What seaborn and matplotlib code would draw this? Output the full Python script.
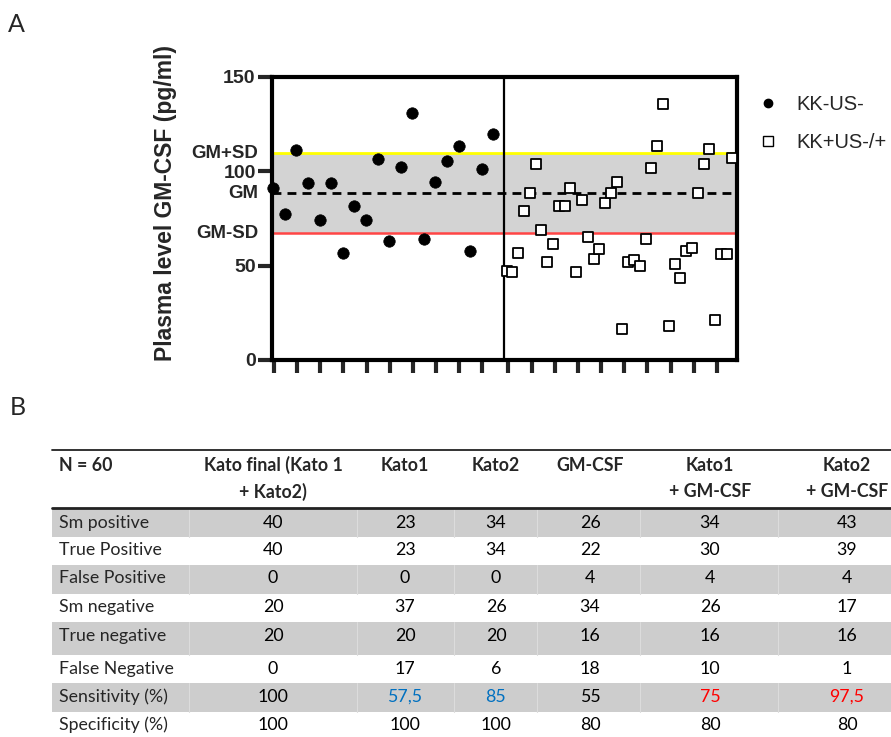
import numpy as np
import pandas as pd
import matplotlib
matplotlib.use("Agg")
import matplotlib.pyplot as plt
import matplotlib.transforms as mtransforms
import seaborn as sns
from matplotlib.lines import Line2D
from matplotlib.patches import Rectangle

# ---------------- data ----------------
series_labels = ["KK-US-", "KK+US-/+"]
kk_neg = [90.9, 77.1, 111.2, 93.9, 74.1, 93.5, 56.5, 81.5, 74.1, 106.4,
          63.0, 102.4, 130.6, 64.1, 94.4, 105.4, 113.5, 57.7, 101.1, 119.6]
kk_pos = [47.1, 46.4, 56.5, 78.9, 88.2, 103.9, 68.8, 51.9, 61.2, 81.7,
          81.7, 91.2, 46.4, 84.7, 65.3, 53.5, 58.9, 82.9, 88.2, 94.1,
          16.4, 51.9, 52.9, 49.9, 64.1, 101.8, 113.5, 135.3, 18.2, 50.6,
          43.6, 57.7, 59.5, 88.2, 103.6, 111.7, 21.2, 55.9, 55.9, 107.1]
gm_mean = 88.2
gm_plus_sd = 109.4
gm_minus_sd = 67.0
gm_labels = ["GM+SD", "GM", "GM-SD"]
y_ticks = [0, 50, 100, 150]
y_label = "Plasma level GM-CSF (pg/ml)"

table_header = ["N = 60", "Kato final (Kato 1\n+ Kato2)", "Kato1", "Kato2",
                "GM-CSF", "Kato1\n+ GM-CSF", "Kato2\n+ GM-CSF"]
row_labels = ["Sm positive", "True Positive", "False Positive", "Sm negative",
              "True negative", "False Negative", "Sensitivity (%)", "Specificity (%)"]
kato_final = ["40", "40", "0", "20", "20", "0", "100", "100"]
kato1 = ["23", "23", "0", "37", "20", "17", "57,5", "100"]
kato2 = ["34", "34", "0", "26", "20", "6", "85", "100"]
gmcsf = ["26", "22", "4", "34", "16", "18", "55", "80"]
kato1_gm = ["34", "30", "4", "26", "16", "10", "75", "80"]
kato2_gm = ["43", "39", "4", "17", "16", "1", "97,5", "80"]
highlight = {(6, 2): "#0070C0", (6, 3): "#0070C0", (6, 5): "#FF0000", (6, 6): "#FF0000"}

# ---------------- style ----------------
sns.set_style("white")
plt.rcParams["font.family"] = ["Liberation Sans", "DejaVu Sans"]

W, H = 891, 737
fig = plt.figure(figsize=(W / 100, H / 100), dpi=100)

# full-figure pixel axes for the table and panel letters
tax = fig.add_axes([0, 0, 1, 1], zorder=0)
tax.set_xlim(0, W)
tax.set_ylim(H, 0)
tax.axis("off")
tax.patch.set_visible(False)

# ---------------- scatter panel ----------------
L, R, T, B = 271.7, 736.7, 76.7, 360.0
ax = fig.add_axes([L / W, 1 - B / H, (R - L) / W, (B - T) / H], zorder=2)
ax.patch.set_alpha(0)

df_neg = pd.DataFrame({"x": np.arange(len(kk_neg)) * 2.0, "y": kk_neg, "group": series_labels[0]})
df_pos = pd.DataFrame({"x": 40.3 + np.arange(len(kk_pos)) * 1.0, "y": kk_pos, "group": series_labels[1]})

ax.axhspan(gm_minus_sd, gm_plus_sd, color="#d3d3d3", zorder=0.5, lw=0)
ax.axhline(gm_plus_sd, color="#ffff00", lw=2.0, zorder=2)
ax.axhline(gm_minus_sd, color="#ff4545", lw=1.8, zorder=2)
ax.axhline(gm_mean, color="black", lw=2.0, ls=(0, (3.2, 2.2)), zorder=2)
ax.axvline(39.8, color="black", lw=1.6, zorder=2)

sns.scatterplot(data=df_pos, x="x", y="y", marker="s", s=60, color="white",
                edgecolor="black", linewidth=1.3, ax=ax, zorder=3, clip_on=False, legend=False)
sns.scatterplot(data=df_neg, x="x", y="y", marker="o", s=68, color="black",
                edgecolor="black", linewidth=0.5, ax=ax, zorder=4, clip_on=False, legend=False)

ax.set_xlim(-0.28, 80.03)
ax.set_ylim(0, 150)
ax.set_xlabel("")
ax.set_ylabel("")
ax.set_yticks(y_ticks)
ax.set_yticklabels([str(v) for v in y_ticks], fontweight="bold", fontsize=14)
xt = list(0.12 + np.arange(10) * 4.0) + list(40.6 + np.arange(10) * 4.0)
ax.set_xticks(xt)
ax.set_xticklabels([])
ax.tick_params(axis="y", length=10, width=3, pad=1.5, left=True, direction="out")
ax.tick_params(axis="x", length=9, width=3, bottom=True, direction="out")
for sp in ax.spines.values():
    sp.set_linewidth(3)
    sp.set_color("black")

trans = mtransforms.blended_transform_factory(ax.transAxes, ax.transData)
for lab, val in zip(gm_labels, [gm_plus_sd, gm_mean, gm_minus_sd]):
    ax.text(-0.0285, val, lab, transform=trans, ha="right", va="center",
            fontsize=13.4, fontweight="bold")

ax.set_ylabel(y_label, fontsize=16.5, fontweight="bold")
ax.yaxis.set_label_coords((176.7 - L) / (R - L), (B - 203) / (B - T))

handles = [Line2D([], [], marker="o", ls="", color="black", markersize=6),
           Line2D([], [], marker="s", ls="", markerfacecolor="white",
                  markeredgecolor="black", markeredgewidth=1.0, markersize=7)]
fig.legend(handles, series_labels, loc="upper left",
           bbox_to_anchor=(758 / W, 1 - 95 / H), frameon=False, fontsize=14.5,
           handlelength=1.0, handletextpad=0.9, labelspacing=0.96,
           borderpad=0, borderaxespad=0)

# ---------------- panel letters ----------------
tax.text(8, 31.5, "A", fontsize=18, family="Lato", ha="left", va="baseline")
tax.text(10, 415, "B", fontsize=18, family="Lato", ha="left", va="baseline")

# ---------------- table ----------------
tfont = "Lato"
tsize = 12.8
x_left, x_right = 52, W
row_bounds = [508, 537, 565, 594, 622, 655, 683, 712, 740]
text_y = [522.7, 550, 578.3, 606.7, 635.7, 669.3, 696.7, 725]
col_x = [59, 273, 405, 496, 590, 710, 847]
seps = [189, 357, 454, 537, 640, 778]
gray = "#cdcdcd"

for i in range(len(row_labels)):
    if i % 2 == 0:
        tax.add_patch(Rectangle((x_left, row_bounds[i]), x_right - x_left,
                                row_bounds[i + 1] - row_bounds[i], color=gray, lw=0, zorder=0))
        for sx in seps:
            tax.plot([sx, sx], [row_bounds[i], row_bounds[i + 1]], color="#dcdcdc", lw=0.8, zorder=1)

tax.plot([x_left, x_right], [450, 450], color="#222222", lw=1.3, zorder=2)
tax.plot([x_left, x_right], [508, 508], color="#222222", lw=2.0, zorder=2)

for j, head in enumerate(table_header):
    for k, line in enumerate(head.split("\n")):
        tax.text(col_x[j], 465 + k * 26.7, line, fontsize=tsize, family=tfont,
                 fontweight="bold", ha="left" if j == 0 else "center", va="center", zorder=3)

columns = [kato_final, kato1, kato2, gmcsf, kato1_gm, kato2_gm]
for i, lab in enumerate(row_labels):
    tax.text(col_x[0], text_y[i], lab, fontsize=tsize, family=tfont,
             ha="left", va="center", zorder=3)
    for j, col in enumerate(columns):
        c = highlight.get((i, j + 1), "black")
        tax.text(col_x[j + 1], text_y[i], col[i], fontsize=tsize, family=tfont,
                 ha="center", va="center", color=c, zorder=3)

fig.savefig("out.png", dpi=100)
